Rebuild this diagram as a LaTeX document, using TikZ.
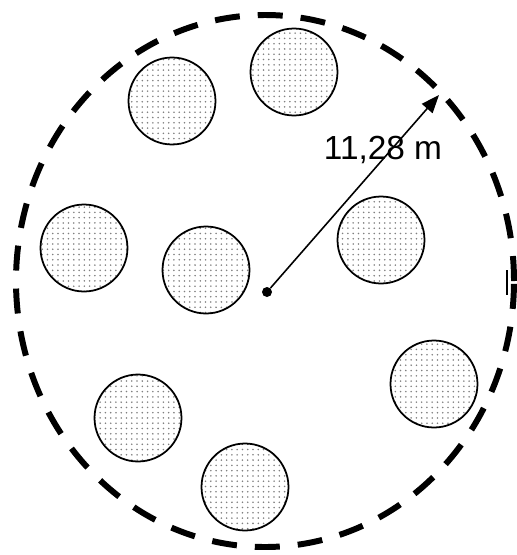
\documentclass[tikz,border=0pt]{standalone}
\usepackage{fontspec}
\setmainfont{Liberation Sans}
\usetikzlibrary{patterns,arrows.meta}

\begin{document}
\begin{tikzpicture}[x=0.02cm,y=-0.02cm,
    treebox/.style={circle,draw,line width=1pt,minimum size=1.74cm,inner sep=0pt,
      pattern=dots,pattern color=gray}]
            \useasboundingbox (0,0) rectangle (517,555);
            \draw[line width=3.4pt,dash pattern=on 0.5cm off 0.36cm] (265,281) ellipse [x radius=249,y radius=-266];
            \node[treebox] (t1) at (172,101) {};
            \node[treebox] (t2) at (294,72) {};
            \node[treebox] (t3) at (84,248) {};
            \node[treebox] (t4) at (206,270) {};
            \node[treebox] (t5) at (381,240) {};
            \node[treebox] (t6) at (434,384) {};
            \node[treebox] (t7) at (138,418) {};
            \node[treebox] (t8) at (245,487) {};
            \node[circle,fill,inner sep=0pt,minimum size=0.2cm] (mid) at (267,292) {};
            \coordinate (edge) at (439,95);
            \draw[-{Triangle[length=0.36cm,width=0.28cm]},line width=0.9pt] (mid) -- (edge);
            \node[font=\fontsize{19}{22}\selectfont] (lab) at (383,150) {11,28 m};
            \draw[line width=0.6pt] (507,270) -- (507,295);
        \end{tikzpicture}
\end{document}
